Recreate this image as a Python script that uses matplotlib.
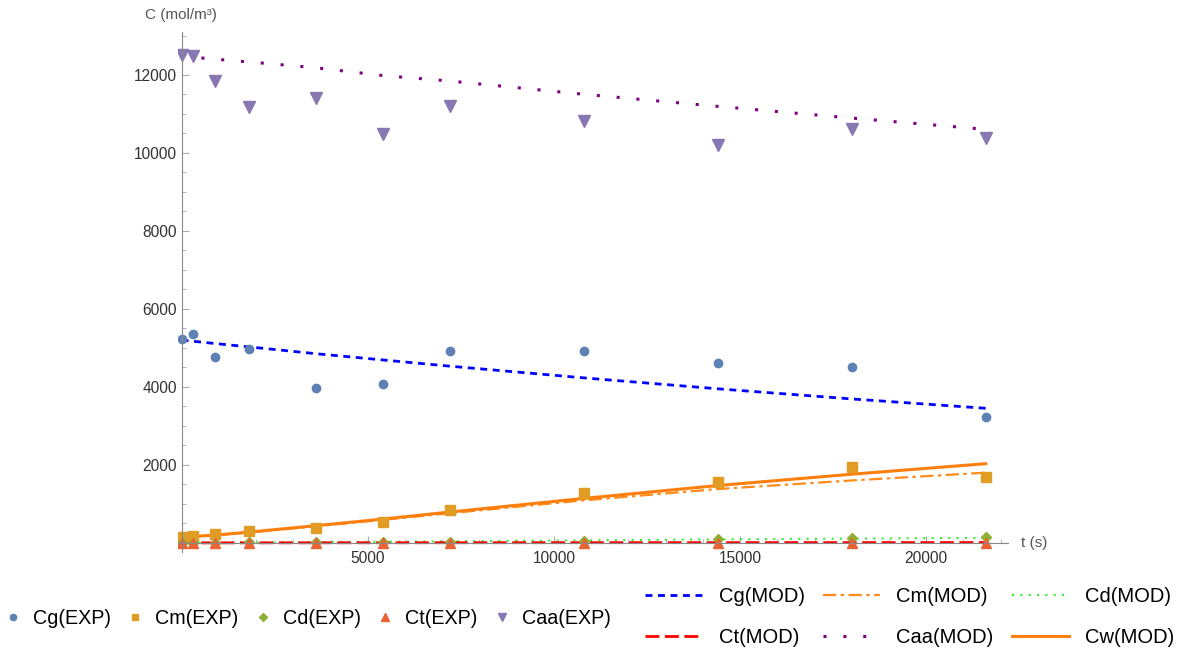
import numpy as np
import matplotlib.pyplot as plt

plt.rcParams['font.family'] = ['Liberation Sans', 'DejaVu Sans']

# sampling times (s)
t = [0, 300, 900, 1800, 3600, 5400, 7200, 10800, 14400, 18000, 21600]

# experimental concentrations (mol/m3)
cg_exp = [5225, 5354, 4762, 4968, 3964, 4067, 4916, 4916, 4600, 4504, 3217]
cm_exp = [140, 180, 220, 309, 386, 540, 849, 1287, 1570, 1956, 1699]
cd_exp = [0, 0, 5, 10, 15, 20, 25, 40, 90, 130, 150]
ct_exp = [0, 0, 0, 0, 0, 0, 0, 0, 0, 0, 0]
caa_exp = [12510, 12484, 11840, 11171, 11403, 10476, 11197, 10811, 10193, 10605, 10373]

# model concentrations (mol/m3)
cg_mod = [5200, 5170, 5110, 5025, 4850, 4690, 4530, 4230, 3950, 3690, 3450]
cm_mod = [150, 163, 195, 265, 425, 590, 760, 1090, 1380, 1600, 1800]
cd_mod = [0, 2, 5, 10, 20, 30, 40, 65, 90, 110, 130]
ct_mod = [0, 0, 0, 1, 2, 3, 4, 5, 6, 7, 8]
caa_mod = [12480, 12450, 12400, 12330, 12180, 11980, 11840, 11500, 11190, 10890, 10600]
cw_mod = [150, 165, 200, 275, 440, 610, 790, 1140, 1470, 1760, 2030]

fig = plt.figure(figsize=(11.86, 6.5), dpi=100)
ax = fig.add_axes([0.150, 0.151, 0.700, 0.800])

mod_lines = [
    ax.plot(t, cg_mod, color='#0000ff', lw=2, ls=(0, (2.5, 2)), label='Cg(MOD)')[0],
    ax.plot(t, cm_mod, color='#ff8c1a', lw=1.6, ls=(0, (6, 2, 1.5, 2)), label='Cm(MOD)')[0],
    ax.plot(t, cd_mod, color='#33ee33', lw=1.5, ls=(0, (1, 3)), label='Cd(MOD)')[0],
    ax.plot(t, ct_mod, color='#ff0000', lw=2, ls=(0, (5, 2)), label='Ct(MOD)')[0],
    ax.plot(t, caa_mod, color='#800080', lw=2.2, ls=(0, (1, 5.5)), label='Caa(MOD)')[0],
    ax.plot(t, cw_mod, color='#ff7f0e', lw=2.2, ls='-', label='Cw(MOD)')[0],
]

exp_pts = [
    ax.plot(t, cg_exp, 'o', color='#5e81b5', ms=6, label='Cg(EXP)')[0],
    ax.plot(t, cm_exp, 's', color='#e19c24', ms=6.5, label='Cm(EXP)')[0],
    ax.plot(t, cd_exp, 'D', color='#8fb032', ms=5.5, label='Cd(EXP)')[0],
    ax.plot(t, ct_exp, '^', color='#eb6235', ms=7, label='Ct(EXP)')[0],
    ax.plot(t, caa_exp, 'v', color='#8778b3', ms=8.5, label='Caa(EXP)')[0],
]

ax.set_xlim(-100, 22200)
ax.set_ylim(-230, 13100)

# Mathematica-like crossing axes
for s in ['top', 'right']:
    ax.spines[s].set_visible(False)
ax.spines['left'].set_position(('data', 0))
ax.spines['bottom'].set_position(('data', 0))
ax.spines['left'].set_color('#888888')
ax.spines['bottom'].set_color('#888888')
ax.set_xticks([5000, 10000, 15000, 20000])
ax.set_xticks(np.arange(1000, 22001, 1000), minor=True)
ax.set_yticks([2000, 4000, 6000, 8000, 10000, 12000])
ax.set_yticks(np.arange(500, 13001, 500), minor=True)
ax.tick_params(axis='both', which='both', direction='in', color='#aaaaaa',
               labelsize=11.2, labelcolor='#333333')
ax.tick_params(axis='x', which='major', pad=6)
ax.tick_params(which='major', length=5)
ax.tick_params(which='minor', length=3)

fig.text(145 / 1186, 1 - 15 / 650, 'C (mol/m³)', fontsize=11, color='#555555', va='center')
fig.text(1021 / 1186, 1 - 543 / 650, 't (s)', fontsize=11, color='#555555', va='center')

fig.legend(handles=exp_pts, loc='center left', bbox_to_anchor=(0.0, 1 - 618 / 650),
           ncol=5, frameon=False, fontsize=14.2, handlelength=0.6, handletextpad=0.7,
           columnspacing=0.95, markerscale=0.75, borderpad=0.35, borderaxespad=0)

order = [0, 3, 1, 4, 2, 5]
fig.legend(handles=[mod_lines[i] for i in order], loc='center left',
           bbox_to_anchor=(637 / 1186, 1 - 617 / 650), ncol=3, frameon=False,
           fontsize=14.5, handlelength=2.85, handletextpad=0.8, columnspacing=0.9,
           labelspacing=1.08, borderpad=0.4, borderaxespad=0)

fig.savefig('out.png', dpi=100)
